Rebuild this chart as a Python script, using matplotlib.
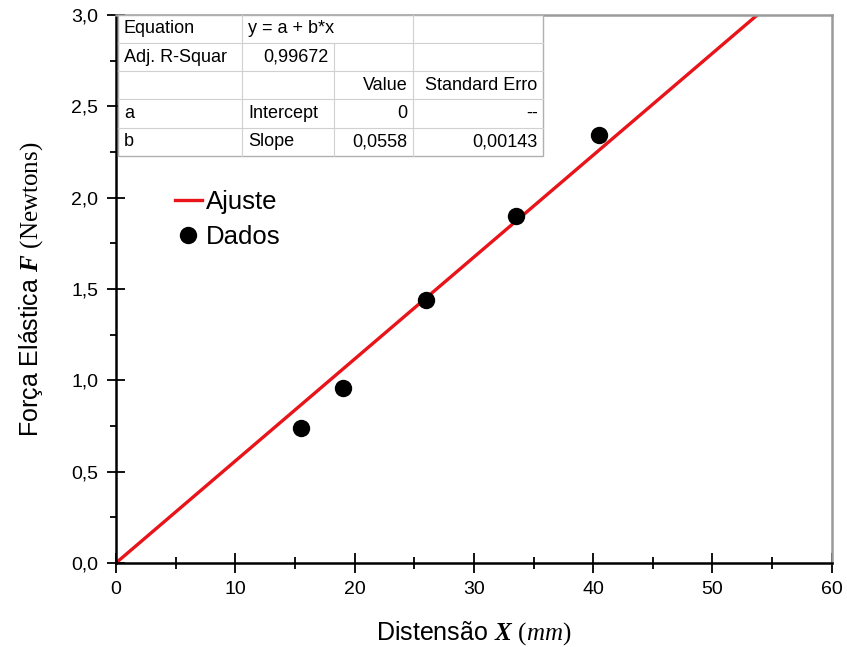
import matplotlib
matplotlib.use("Agg")
import matplotlib.pyplot as plt
import numpy as np
from matplotlib.ticker import MultipleLocator, FuncFormatter

plt.rcParams['font.family'] = ['Liberation Sans', 'DejaVu Sans']
plt.rcParams['mathtext.fontset'] = 'custom'
plt.rcParams['mathtext.rm'] = 'Liberation Serif'
plt.rcParams['mathtext.it'] = 'Liberation Serif:italic'
plt.rcParams['mathtext.bf'] = 'Liberation Serif:bold:italic'

# data
x_data = [15.5, 19.0, 26.0, 33.5, 40.5]
y_data = [0.74, 0.96, 1.44, 1.90, 2.34]
slope = 0.0558
intercept = 0.0
fit_x = [0.0, 60.0]

table_rows = [
    ["Equation", "y = a + b*x", "", ""],
    ["Adj. R-Squar", "0,99672", "", ""],
    ["", "", "Value", "Standard Erro"],
    ["a", "Intercept", "0", "--"],
    ["b", "Slope", "0,0558", "0,00143"],
]
table_align = [
    ["left", "left", "left", "left"],
    ["left", "right", "left", "left"],
    ["left", "left", "right", "right"],
    ["left", "left", "right", "right"],
    ["left", "left", "right", "right"],
]

fig = plt.figure(figsize=(8.47, 6.47), dpi=100)
ax = fig.add_axes([0.137, 0.130, 0.845, 0.847])

fx = np.array(fit_x)
ax.plot(fx, intercept + slope * fx, color='#e8141a', lw=2.4, label='Ajuste', zorder=2)
ax.plot(x_data, y_data, 'o', color='black', ms=11.5, label='Dados', zorder=3)

ax.set_xlim(0, 60)
ax.set_ylim(0, 3.0)
ax.xaxis.set_major_locator(MultipleLocator(10))
ax.xaxis.set_minor_locator(MultipleLocator(5))
ax.yaxis.set_major_locator(MultipleLocator(0.5))
ax.yaxis.set_minor_locator(MultipleLocator(0.25))
ax.yaxis.set_major_formatter(FuncFormatter(lambda v, p: f"{v:.1f}".replace('.', ',')))
ax.tick_params(axis='x', which='major', direction='inout', length=14.4, width=1.3,
               labelsize=14, pad=6)
ax.tick_params(axis='x', which='minor', direction='inout', length=8, width=1.3)
ax.tick_params(axis='y', which='major', direction='inout', length=12.5, width=1.3,
               labelsize=14, pad=6.5)
ax.tick_params(axis='y', which='minor', direction='out', length=4.5, width=1.3)

for s in ['left', 'bottom']:
    ax.spines[s].set_linewidth(1.8)
    ax.spines[s].set_color('black')
for s in ['top', 'right']:
    ax.spines[s].set_linewidth(1.8)
    ax.spines[s].set_color('#9a9a9a')

ax.set_xlabel(r"Distensão $\mathbf{X}$ $(\mathit{mm})$", fontsize=18)
ax.set_ylabel(r"Força Elástica $\mathbf{F}$ $\mathrm{(Newtons)}$", fontsize=18)
ax.xaxis.set_label_coords(0.5, -0.102)
ax.yaxis.set_label_coords(-0.099, 0.5)

leg = ax.legend(loc='upper left', bbox_to_anchor=(0.082, 0.680), frameon=False,
                fontsize=18.5, handlelength=1.05, handletextpad=0.15, labelspacing=0.4,
                borderaxespad=0, borderpad=0)

# table
tx0, ty0, tw, th = 0.003, 0.743, 0.594, 0.257
col_w = [124, 92, 79, 130]
tot = sum(col_w)
nrows = len(table_rows)
rh = th / nrows
xs = [tx0]
for w in col_w:
    xs.append(xs[-1] + tw * w / tot)
ax.add_patch(plt.Rectangle((tx0, ty0), tw, th, transform=ax.transAxes,
                           facecolor='white', edgecolor='#b0b0b0', lw=1.0, zorder=5))
for i in range(1, nrows):
    y = ty0 + th - i * rh
    ax.plot([tx0, tx0 + tw], [y, y], transform=ax.transAxes, color='#d0d0d0', lw=0.8, zorder=6)
for j in range(1, len(col_w)):
    top = ty0 + th - (rh if j == 2 else 0)
    ax.plot([xs[j], xs[j]], [ty0, top], transform=ax.transAxes, color='#d0d0d0', lw=0.8, zorder=6)
pad = 0.008
for i, row in enumerate(table_rows):
    yc = ty0 + th - (i + 0.5) * rh
    for j, txt in enumerate(row):
        if not txt:
            continue
        al = table_align[i][j]
        xp = xs[j] + pad if al == 'left' else xs[j + 1] - pad
        ax.text(xp, yc, txt, transform=ax.transAxes, ha=al, va='center',
                fontsize=13, zorder=7)

fig.savefig("out.png", dpi=100, facecolor='white')
